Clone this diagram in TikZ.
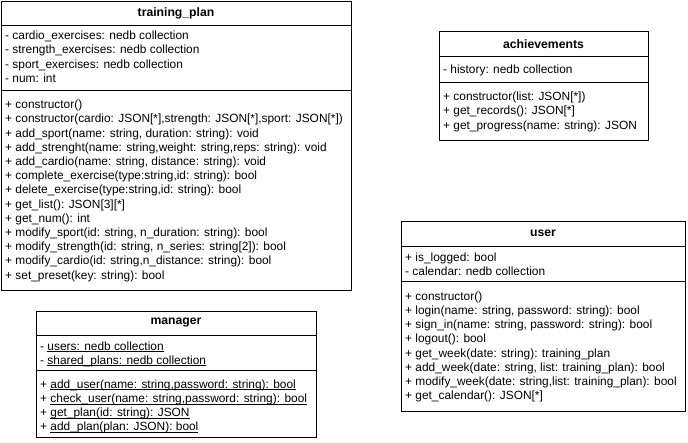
\documentclass[tikz,border=0pt]{standalone}
\usepackage{fontspec}
\setmainfont{Liberation Sans}
\newcommand\myul[1]{\setbox0\hbox{#1}\rlap{\rule[-2pt]{\wd0}{0.8pt}}\box0}
\begin{document}
\begin{tikzpicture}[x=1pt,y=-1pt,
  umlbox/.style={draw=black, line width=1pt, anchor=north west, inner sep=0pt, fill=white},
  umltitle/.style={font=\fontsize{12.2}{14}\selectfont\bfseries, inner sep=0pt, anchor=center},
  member/.style={font=\fontsize{11.9}{14}\selectfont, inner sep=0pt, anchor=base west},
  divider/.style={line width=1pt}]
\useasboundingbox (0,0) rectangle (688,443);
\newcommand\umlline[4]{\node[member] (#1) at (#2,#3+4.3) {#4};}
% ---------- training_plan ----------
\node[umlbox, minimum width=350pt, minimum height=289pt] (tp) at (1,1) {};
\node[umltitle] (tpt) at (176,13.5) {training\_plan};
\draw[divider] (tp.north west |- 0,26) -- (tp.north east |- 0,26);
\draw[divider] (tp.north west |- 0,91) -- (tp.north east |- 0,91);
\umlline{tpa1}{5}{35.5}{- cardio\_exercises: nedb collection}
\umlline{tpa2}{5}{49.7}{- strength\_exercises: nedb collection}
\umlline{tpa3}{5}{63.9}{- sport\_exercises: nedb collection}
\umlline{tpa4}{5}{78.1}{- num: int}
\umlline{tpm1}{5}{104.5}{+ constructor()}
\umlline{tpm2}{5}{118.7}{+ constructor(cardio: JSON[*],strength: JSON[*],sport: JSON[*])}
\umlline{tpm3}{5}{132.9}{+ add\_sport(name: string, duration: string): void}
\umlline{tpm4}{5}{147.1}{+ add\_strenght(name: string,weight: string,reps: string): void}
\umlline{tpm5}{5}{161.3}{+ add\_cardio(name: string, distance: string): void}
\umlline{tpm6}{5}{175.5}{+ complete\_exercise(type:string,id: string): bool}
\umlline{tpm7}{5}{189.7}{+ delete\_exercise(type:string,id: string): bool}
\umlline{tpm8}{5}{203.9}{+ get\_list(): JSON[3][*]}
\umlline{tpm9}{5}{218.1}{+ get\_num(): int}
\umlline{tpm10}{5}{232.3}{+ modify\_sport(id: string, n\_duration: string): bool}
\umlline{tpm11}{5}{246.5}{+ modify\_strength(id: string, n\_series: string[2]): bool}
\umlline{tpm12}{5}{260.7}{+ modify\_cardio(id: string,n\_distance: string): bool}
\umlline{tpm13}{5}{274.9}{+ set\_preset(key: string): bool}
% ---------- achievements ----------
\node[umlbox, minimum width=209pt, minimum height=109pt] (ach) at (439,31) {};
\node[umltitle] (acht) at (543.5,44) {achievements};
\draw[divider] (ach.north west |- 0,57) -- (ach.north east |- 0,57);
\draw[divider] (ach.north west |- 0,83) -- (ach.north east |- 0,83);
\umlline{acha1}{443}{69.5}{- history: nedb collection}
\umlline{achm1}{443}{96}{+ constructor(list: JSON[*])}
\umlline{achm2}{443}{110.5}{+ get\_records(): JSON[*]}
\umlline{achm3}{443}{125}{+ get\_progress(name: string): JSON}
% ---------- user ----------
\node[umlbox, minimum width=284pt, minimum height=190pt] (usr) at (401,221) {};
\node[umltitle] (usrt) at (543,233.5) {user};
\draw[divider] (usr.north west |- 0,247) -- (usr.north east |- 0,247);
\draw[divider] (usr.north west |- 0,282) -- (usr.north east |- 0,282);
\umlline{usra1}{405}{257}{+ is\_logged: bool}
\umlline{usra2}{405}{271}{- calendar: nedb collection}
\umlline{usrm1}{405}{296}{+ constructor()}
\umlline{usrm2}{405}{310.2}{+ login(name: string, password: string): bool}
\umlline{usrm3}{405}{324.4}{+ sign\_in(name: string, password: string): bool}
\umlline{usrm4}{405}{338.6}{+ logout(): bool}
\umlline{usrm5}{405}{352.8}{+ get\_week(date: string): training\_plan}
\umlline{usrm6}{405}{367}{+ add\_week(date: string, list: training\_plan): bool}
\umlline{usrm7}{405}{381.2}{+ modify\_week(date: string,list: training\_plan): bool}
\umlline{usrm8}{405}{395.4}{+ get\_calendar(): JSON[*]}
% ---------- manager ----------
\node[umlbox, minimum width=280pt, minimum height=126pt] (mgr) at (36,311) {};
\node[umltitle] (mgrt) at (176,323) {manager};
\draw[divider] (mgr.north west |- 0,336) -- (mgr.north east |- 0,336);
\draw[divider] (mgr.north west |- 0,371) -- (mgr.north east |- 0,371);
\umlline{mgra1}{40}{346}{- \myul{users: nedb collection}}
\umlline{mgra2}{40}{360}{- \myul{shared\_plans: nedb collection}}
\umlline{mgrm1}{40}{384}{+ \myul{add\_user(name: string,password: string): bool}}
\umlline{mgrm2}{40}{398.2}{+ \myul{check\_user(name: string,password: string): bool}}
\umlline{mgrm3}{40}{412.4}{+ \myul{get\_plan(id: string): JSON}}
\umlline{mgrm4}{40}{426.6}{+ \myul{add\_plan(plan: JSON): bool}}
\end{tikzpicture}
\end{document}
